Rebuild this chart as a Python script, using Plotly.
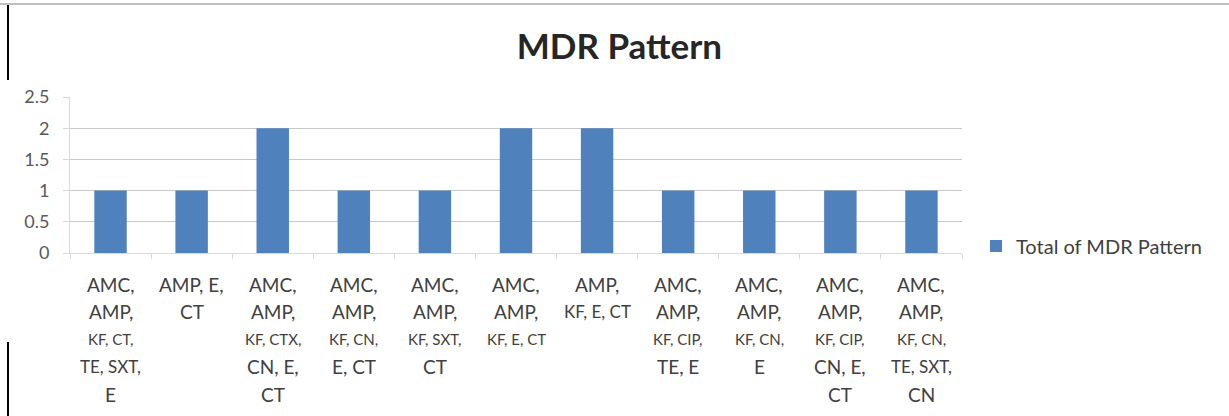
import plotly.graph_objects as go

# MDR resistance patterns and how many isolates showed each one
patterns = [
    ["AMC,", "AMP,", "KF, CT,", "TE, SXT,", "E"],
    ["AMP, E,", "CT"],
    ["AMC,", "AMP,", "KF, CTX,", "CN, E,", "CT"],
    ["AMC,", "AMP,", "KF, CN,", "E, CT"],
    ["AMC,", "AMP,", "KF, SXT,", "CT"],
    ["AMC,", "AMP,", "KF, E, CT"],
    ["AMP,", "KF, E, CT"],
    ["AMC,", "AMP,", "KF, CIP,", "TE, E"],
    ["AMC,", "AMP,", "KF, CN,", "E"],
    ["AMC,", "AMP,", "KF, CIP,", "CN, E,", "CT"],
    ["AMC,", "AMP,", "KF, CN,", "TE, SXT,", "CN"],
]
totals = [1, 1, 2, 1, 1, 2, 2, 1, 1, 1, 1]
y_ticks = [0, 0.5, 1, 1.5, 2, 2.5]
series_name = "Total of MDR Pattern"

categories = [" ".join(p) for p in patterns]

W, H = 1229, 416
L, R, T, B = 70, 267, 97, 163
FONT = "Lato, 'Open Sans', sans-serif"
GREY = "#595959"

fig = go.Figure(
    go.Bar(
        x=categories,
        y=totals,
        name=series_name,
        marker=dict(color="#4F81BD", line=dict(width=0)),
        width=0.4,
        showlegend=True,
    )
)

# Category labels, written line by line below the axis
annotations = []
for cat, lines in zip(categories, patterns):
    for j, line in enumerate(lines):
        if j == 2:
            size = 15
        elif len(line) > 7:
            size = 17
        else:
            size = 19
        annotations.append(dict(
            x=cat, y=0, xref="x", yref="y",
            text=line, showarrow=False,
            yanchor="middle", xanchor="center",
            yshift=-(31 + 27.5 * j),
            font=dict(family=FONT, size=size, color="#404040"),
        ))

def px_x(p):
    return (p - L) / (W - L - R)

def px_y(p):
    return (H - B - p) / (H - T - B)

shapes = [
    # frame pieces around the chart
    dict(type="line", xref="paper", yref="paper",
         x0=px_x(0), x1=px_x(W), y0=px_y(4), y1=px_y(4),
         line=dict(color="#BFBFBF", width=2)),
    dict(type="line", xref="paper", yref="paper",
         x0=px_x(8), x1=px_x(8), y0=px_y(5), y1=px_y(80),
         line=dict(color="#000000", width=2)),
    dict(type="line", xref="paper", yref="paper",
         x0=px_x(8), x1=px_x(8), y0=px_y(342), y1=px_y(416),
         line=dict(color="#000000", width=2)),
]

fig.update_layout(
    width=W, height=H,
    margin=dict(l=L, r=R, t=T, b=B, pad=0, autoexpand=False),
    paper_bgcolor="white", plot_bgcolor="white",
    font=dict(family=FONT, color=GREY, size=17),
    title=dict(
        text="<b>MDR Pattern</b>", x=0.504, xanchor="center",
        y=1 - 47 / H, yanchor="middle",
        font=dict(family=FONT, size=35, color="#262626"),
    ),
    bargap=0.6,
    xaxis=dict(
        showticklabels=False,
        showline=True, linecolor="#D9D9D9", linewidth=1,
        ticks="outside", tickson="boundaries", ticklen=5, tickcolor="#D9D9D9",
        showgrid=False,
    ),
    yaxis=dict(
        range=[0, 2.5], tickvals=y_ticks,
        ticktext=[f"{v:g}" for v in y_ticks],
        showgrid=True, gridcolor="#C8C8C8", gridwidth=1,
        showline=True, linecolor="#D9D9D9",
        ticks="outside", ticklen=6, tickcolor="#D9D9D9",
        ticklabelstandoff=10,
        zeroline=False,
        tickfont=dict(size=18, color=GREY),
    ),
    legend=dict(
        x=px_x(976), y=px_y(246), xanchor="left", yanchor="middle",
        font=dict(family=FONT, size=20, color="#404040"),
        bgcolor="rgba(0,0,0,0)", itemwidth=30,
    ),
    annotations=annotations,
    shapes=shapes,
)

fig.write_html("out.html")
